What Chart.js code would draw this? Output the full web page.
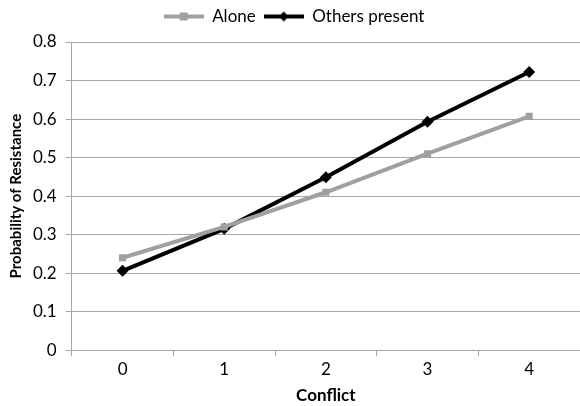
<!DOCTYPE html>
<html>
<head>
<meta charset="utf-8">
<script src="https://cdn.jsdelivr.net/npm/chart.js@4"></script>
<style>
  html, body { margin: 0; padding: 0; background: #fff; }
  #wrap { width: 580px; height: 406px; }
</style>
</head>
<body>
<div id="wrap"><canvas id="resistChart" width="580" height="406"></canvas></div>
<script>
// data
var conflict = ['0', '1', '2', '3', '4'];
var alone = [0.24, 0.32, 0.41, 0.51, 0.607];
var othersPresent = [0.206, 0.315, 0.449, 0.593, 0.722];
var seriesNames = ['Alone', 'Others present'];

var grey = '#a0a0a0';
var gridGrey = '#a6a6a6';

// small legend icons: line with the marker in the middle
function legendIcon(color, marker) {
    var c = document.createElement('canvas');
    c.width = 40; c.height = 12;
    var ctx = c.getContext('2d');
    ctx.strokeStyle = color;
    ctx.fillStyle = color;
    ctx.lineWidth = 4;
    ctx.beginPath();
    ctx.moveTo(0, 6); ctx.lineTo(40, 6);
    ctx.stroke();
    ctx.beginPath();
    if (marker == 'square') {
        ctx.rect(16, 2, 8, 8);
    } else {
        ctx.moveTo(20, 1); ctx.lineTo(25, 6); ctx.lineTo(20, 11); ctx.lineTo(15, 6);
        ctx.closePath();
    }
    ctx.fill();
    return c;
}

// push the plot area a little below the legend
var legendGap = {
    id: 'legendGap',
    beforeInit: function (chart) {
        var origFit = chart.legend.fit;
        chart.legend.fit = function () {
            origFit.bind(chart.legend)();
            this.height += 7;
        };
    }
};

var chart1 = document.getElementById('resistChart');
var resistChart = new Chart(chart1, {
    type: 'line',
    data: {
        labels: conflict,
        datasets: [
            {
                label: seriesNames[0],
                data: alone,
                borderColor: grey,
                backgroundColor: grey,
                borderWidth: 4,
                pointStyle: 'rect',
                pointRadius: 5,
                pointHoverRadius: 5,
                pointBorderWidth: 0,
                legendIcon: legendIcon(grey, 'square')
            },
            {
                label: seriesNames[1],
                data: othersPresent,
                borderColor: '#000',
                backgroundColor: '#000',
                borderWidth: 4,
                pointStyle: 'rectRot',
                pointRadius: 6,
                pointHoverRadius: 6,
                pointBorderWidth: 0,
                legendIcon: legendIcon('#000', 'diamond')
            }
        ]
    },
    plugins: [legendGap],
    options: {
        responsive: false,
        animation: false,
        layout: { autoPadding: false, padding: { left: 8, right: 0, top: 0, bottom: 0 } },
        plugins: {
            tooltip: { enabled: false },
            legend: {
                position: 'top',
                labels: {
                    usePointStyle: true,
                    pointStyleWidth: 40,
                    padding: 8,
                    color: '#000',
                    font: { family: 'Lato', size: 17 },
                    generateLabels: function (chart) {
                        return chart.data.datasets.map(function (ds, i) {
                            return {
                                text: ds.label,
                                pointStyle: ds.legendIcon,
                                fillStyle: ds.borderColor,
                                strokeStyle: ds.borderColor,
                                lineWidth: 0,
                                fontColor: '#000',
                                datasetIndex: i
                            };
                        });
                    }
                }
            }
        },
        scales: {
            x: {
                offset: true,
                grid: {
                    offset: true,
                    drawOnChartArea: false,
                    drawTicks: true,
                    tickLength: 6,
                    color: gridGrey
                },
                border: { color: gridGrey },
                ticks: { color: '#000', font: { family: 'Lato', size: 17 }, padding: 3 },
                title: {
                    display: true,
                    text: 'Conflict',
                    color: '#000',
                    font: { family: 'Lato', size: 17, weight: 'bold' },
                    padding: { top: 3, bottom: 0 }
                }
            },
            y: {
                min: 0,
                max: 0.8,
                ticks: {
                    stepSize: 0.1,
                    color: '#000',
                    font: { family: 'Lato', size: 17 },
                    padding: 9,
                    callback: function (v) { return v === 0 ? '0' : v.toFixed(1); }
                },
                grid: { color: gridGrey, tickLength: 6 },
                border: { color: gridGrey },
                title: {
                    display: true,
                    text: 'Probability of Resistance',
                    color: '#000',
                    font: { family: 'Lato', size: 15, weight: 'bold', lineHeight: 1 },
                    padding: { top: 1, bottom: 0 }
                }
            }
        }
    }
});
</script>
</body>
</html>
